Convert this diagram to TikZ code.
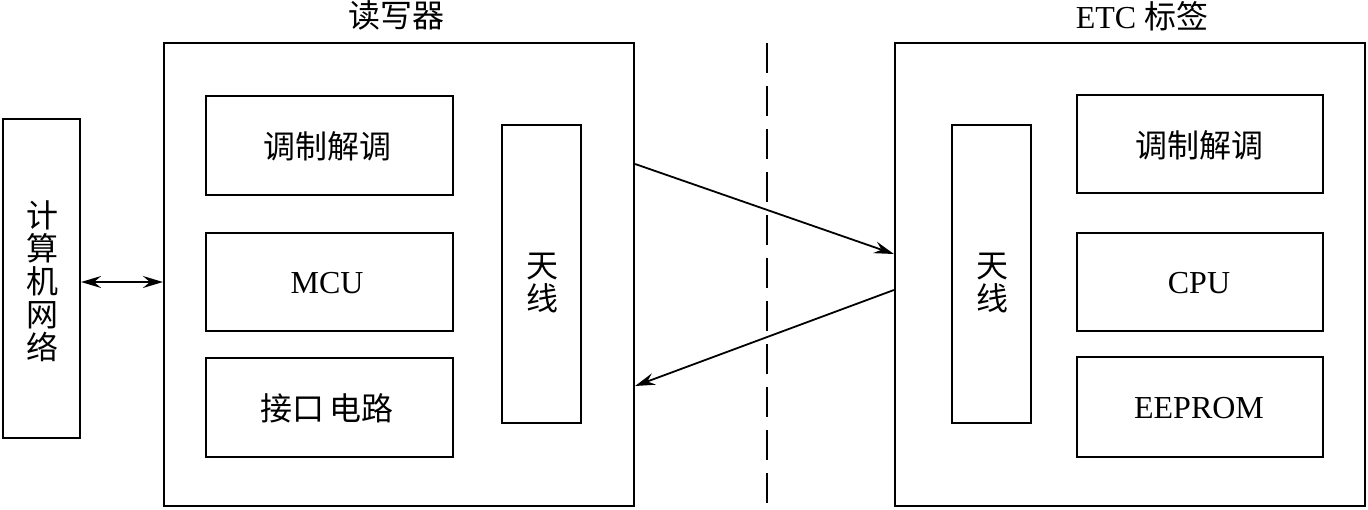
\documentclass[tikz,border=0pt]{standalone}
\usepackage{fontspec}
\setmainfont{Liberation Serif}
\newfontfamily\cjk{Noto Sans CJK SC}
\usetikzlibrary{arrows.meta}
\tikzset{
  box/.style={draw, line width=1.1pt, inner sep=0pt, fill=white},
  lbl/.style={font=\fontsize{16}{16.5}\selectfont, inner sep=0pt, align=center},
  conn/.style={line width=0.9pt, -{Stealth[length=10pt,width=6pt,inset=3.5pt]}},
  dconn/.style={line width=0.9pt, {Stealth[length=10pt,width=6pt,inset=3.5pt]}-{Stealth[length=10pt,width=6pt,inset=3.5pt]}},
  sep/.style={line width=1.1pt, dash pattern=on 15pt off 6.5pt}
}
\begin{document}
\begin{tikzpicture}[x=0.5pt,y=-0.5pt]
\useasboundingbox (0,0) rectangle (1368,509);
% dashed separator
\coordinate (septop) at (767,43);
\coordinate (sepbot) at (767,509);
\draw[sep] (septop) -- (sepbot);
% computer network
\node[box, minimum width=38.5pt, minimum height=159.5pt] (net) at (41.5,278.5) {};
\node[lbl, font=\fontsize{16}{16.5}\selectfont\cjk] (netlbl) at (42,281) {计\\算\\机\\网\\络};
% reader
\node[box, minimum width=235pt, minimum height=231.5pt] (reader) at (399,274.5) {};
\node[lbl, font=\fontsize{16}{16.5}\selectfont\cjk] (readerlbl) at (396,15) {读写器};
\node[box, minimum width=123.5pt, minimum height=49.5pt] (rmod) at (329.5,145.5) {};
\node[lbl, font=\fontsize{16}{16.5}\selectfont\cjk] (rmodlbl) at (327,146) {调制解调};
\node[box, minimum width=123.5pt, minimum height=49pt] (rmcu) at (329.5,282) {};
\node[lbl] (rmculbl) at (327,283) {MCU};
\node[box, minimum width=123.5pt, minimum height=49.5pt] (rif) at (329.5,407.5) {};
\node[lbl, font=\fontsize{16}{16.5}\selectfont\cjk] (riflbl) at (327,408) {接口\,电路};
\node[box, minimum width=39.5pt, minimum height=149pt] (rant) at (541.5,274) {};
\node[lbl, font=\fontsize{16}{16.5}\selectfont\cjk] (rantlbl) at (542,283) {天\\线};
% tag
\node[box, minimum width=235pt, minimum height=231.5pt] (tag) at (1130,274.5) {};
\node[lbl] (taglbl) at (1142,16) {ETC {\cjk 标签}};
\node[box, minimum width=39.5pt, minimum height=149pt] (tant) at (991.5,274) {};
\node[lbl, font=\fontsize{16}{16.5}\selectfont\cjk] (tantlbl) at (992,283) {天\\线};
\node[box, minimum width=123pt, minimum height=49pt] (tmod) at (1200,144) {};
\node[lbl, font=\fontsize{16}{16.5}\selectfont\cjk] (tmodlbl) at (1199,145) {调制解调};
\node[box, minimum width=123pt, minimum height=49pt] (tcpu) at (1200,282) {};
\node[lbl] (tcpulbl) at (1199,283) {CPU};
\node[box, minimum width=123pt, minimum height=50pt] (teep) at (1200,407) {};
\node[lbl] (teeplbl) at (1199,408) {EEPROM};
% connectors
\coordinate (netp) at ([yshift=-1.75pt]net.east);
\draw[dconn] (netp) -- (netp -| reader.west);
\draw[conn] ([yshift=55.25pt]reader.east) -- ([yshift=10.25pt]tag.west);
\draw[conn] ([yshift=-7.75pt]tag.west) -- ([yshift=-55.75pt]reader.east);
\end{tikzpicture}
\end{document}
